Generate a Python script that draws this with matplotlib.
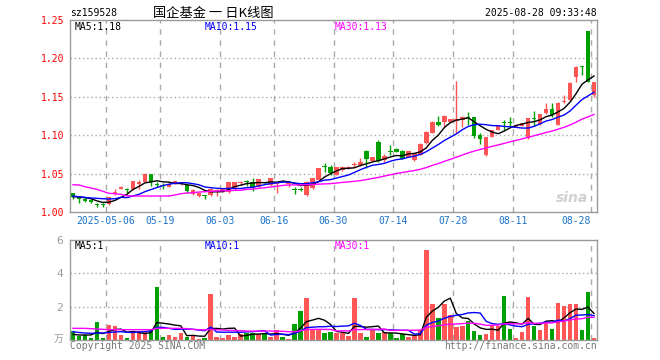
import matplotlib
matplotlib.use('Agg')
import matplotlib.pyplot as plt
import numpy as np
import pandas as pd

# ---------------- data ----------------
opens = [1.0243,1.0199,1.0173,1.0156,1.0095,1.0095,1.0104,1.0251,1.0299,1.0290,
         1.0299,1.0361,1.0395,1.0491,1.0365,1.0348,1.0329,1.0365,1.0365,1.0352,
         1.0231,1.0208,1.0215,1.0221,1.0273,1.0273,1.0264,1.0295,1.0374,1.0395,
         1.0391,1.0329,1.0387,1.0352,1.0361,1.0408,1.0365,1.0290,1.0299,1.0221,
         1.0308,1.0417,1.0590,1.0580,1.0482,1.0547,1.0577,1.0608,1.0612,1.0798,
         1.0668,1.0915,1.0677,1.0790,1.0820,1.0794,1.0720,1.0677,1.0742,1.0894,
         1.1033,1.1176,1.1168,1.1168,1.1185,1.1198,1.1233,1.1233,1.1003,1.0742,
         1.0980,1.1068,1.1172,1.1168,1.1111,1.1120,1.0960,1.1224,1.1142,1.1293,
         1.1341,1.1133,1.1432,1.1458,1.1762,1.1892,1.2357,1.1523]
highs = [1.0251,1.0208,1.0182,1.0165,1.0121,1.0113,1.0199,1.0295,1.0338,1.0316,
         1.0408,1.0417,1.0504,1.0495,1.0391,1.0378,1.0374,1.0408,1.0395,1.0381,
         1.0299,1.0264,1.0221,1.0316,1.0295,1.0303,1.0395,1.0395,1.0404,1.0417,
         1.0439,1.0430,1.0391,1.0443,1.0395,1.0417,1.0395,1.0329,1.0325,1.0404,
         1.0447,1.0573,1.0634,1.0616,1.0586,1.0599,1.0599,1.0647,1.0707,1.0803,
         1.0716,1.0937,1.0755,1.0872,1.0829,1.0801,1.0798,1.0768,1.0894,1.1050,
         1.1185,1.1250,1.1263,1.1215,1.1710,1.1246,1.1306,1.1237,1.1033,1.0976,
         1.1072,1.1133,1.1198,1.1233,1.1137,1.1159,1.1224,1.1319,1.1280,1.1415,
         1.1415,1.1428,1.1523,1.1697,1.1901,1.1905,1.2357,1.1697]
lows = [1.0173,1.0121,1.0134,1.0113,1.0061,1.0069,1.0091,1.0221,1.0295,1.0243,
        1.0290,1.0299,1.0387,1.0342,1.0325,1.0299,1.0321,1.0361,1.0355,1.0251,
        1.0221,1.0199,1.0165,1.0208,1.0208,1.0260,1.0251,1.0287,1.0352,1.0338,
        1.0273,1.0325,1.0365,1.0338,1.0251,1.0387,1.0329,1.0231,1.0273,1.0212,
        1.0299,1.0413,1.0525,1.0482,1.0478,1.0534,1.0560,1.0590,1.0599,1.0569,
        1.0664,1.0655,1.0655,1.0742,1.0781,1.0684,1.0716,1.0664,1.0738,1.0889,
        1.1029,1.1120,1.1111,1.1163,1.1016,1.1111,1.1133,1.0963,1.0885,1.0729,
        1.0976,1.1063,1.1068,1.1111,1.1107,1.1116,1.0950,1.1120,1.1137,1.1272,
        1.1241,1.1129,1.1415,1.1449,1.1697,1.1784,1.1697,1.1493]
closes = [1.0191,1.0173,1.0147,1.0126,1.0087,1.0087,1.0191,1.0260,1.0329,1.0282,
          1.0404,1.0387,1.0491,1.0395,1.0355,1.0338,1.0365,1.0404,1.0391,1.0278,
          1.0287,1.0243,1.0208,1.0295,1.0282,1.0295,1.0391,1.0391,1.0387,1.0387,
          1.0329,1.0426,1.0378,1.0439,1.0369,1.0395,1.0387,1.0282,1.0290,1.0395,
          1.0439,1.0569,1.0582,1.0504,1.0582,1.0590,1.0586,1.0616,1.0655,1.0690,
          1.0712,1.0668,1.0733,1.0781,1.0785,1.0690,1.0794,1.0764,1.0885,1.1045,
          1.1176,1.1133,1.1254,1.1211,1.1207,1.1241,1.1224,1.0990,1.0951,1.0972,
          1.1068,1.1116,1.1163,1.1159,1.1133,1.1155,1.1220,1.1215,1.1276,1.1341,
          1.1263,1.1423,1.1441,1.1684,1.1892,1.1884,1.1697,1.1697]
volumes = [0.54,0.24,0.30,0.14,1.10,0.14,0.90,0.84,0.30,0.14,
           0.40,0.54,0.54,0.60,3.16,0.20,0.30,0.20,0.40,0.20,
           0.30,0.08,0.14,2.76,0.20,0.10,0.30,0.20,0.36,0.44,
           0.44,0.34,0.36,0.20,0.60,0.20,0.08,0.96,1.76,2.52,
           0.66,0.60,0.40,0.50,0.40,0.44,0.24,2.52,0.44,0.20,
           0.60,0.42,0.50,0.40,0.14,0.36,0.20,0.30,0.60,5.40,
           2.16,1.34,2.16,1.50,0.80,0.84,1.14,0.54,0.30,0.36,
           0.90,0.84,2.64,0.66,0.10,0.50,2.60,0.84,0.60,1.10,
           0.66,2.24,2.04,2.16,2.16,0.60,2.90,0.14]

# moving-average values visible before the window is full
ma5_head = [1.0199,1.0195,1.0186,1.0173]
ma10_head = [1.0208,1.0199,1.0191,1.0182,1.0178,1.0173,1.0169,1.0173,1.0191]
ma30_head = [1.0355,1.0352,1.0329,1.0312,1.0295,1.0269,1.0243,1.0238,1.0230,1.0212,
             1.0208,1.0208,1.0208,1.0208,1.0208,1.0208,1.0208,1.0221,1.0238,1.0247,
             1.0251,1.0260,1.0264,1.0269,1.0273,1.0277,1.0277,1.0282,1.0282]
vma5_head = [0.34,0.30,0.30,0.30]
vma10_head = [0.50,0.45,0.42,0.40,0.42,0.42,0.45,0.48,0.50]
vma30_head = [0.70,0.70,0.70,0.68,0.66,0.64,0.62,0.62,0.62,0.62,
              0.62,0.62,0.62,0.62,0.70,0.70,0.70,0.70,0.70,0.68,
              0.64,0.62,0.60,0.64,0.62,0.60,0.58,0.57,0.56]

tick_index = [6, 15, 25, 34, 44, 54, 64, 74, 87]
tick_labels = ['2025-05-06', '05-19', '06-03', '06-16', '06-30', '07-14', '07-28', '08-11', '08-28']
price_ticks = [1.00, 1.05, 1.10, 1.15, 1.20, 1.25]
vol_ticks = [2, 4, 6]

code = 'sz159528'
title = '国企基金 一 日K线图'
stamp = '2025-08-28 09:33:48'
ma_price_labels = ['MA5:1.18', 'MA10:1.15', 'MA30:1.13']
ma_vol_labels = ['MA5:1', 'MA10:1', 'MA30:1']

# ---------------- drawing ----------------
plt.rcParams['font.family'] = ['DejaVu Sans Mono', 'Noto Sans CJK SC']
W, H = 660, 360
fig = plt.figure(figsize=(W / 100, H / 100), dpi=100)
fig.patch.set_facecolor('white')

def axes_px(l, t, r, b):
    return fig.add_axes([l / W, 1 - b / H, (r - l) / W, (b - t) / H])

RED = '#ff5555'
GREEN = '#00a000'
GRID = '#aaaaaa'
FRAME = '#999999'

o = np.array(opens); c = np.array(closes); hi = np.array(highs); lo = np.array(lows)
v = np.array(volumes)
n = len(c)
x = np.arange(n)
cols = np.where(c >= o, RED, GREEN)

def mov(series, w, head):
    s = pd.Series(series).rolling(w).mean().to_numpy()
    s[:len(head)] = head
    return s

ax = axes_px(70, 20, 597, 212)
axv = axes_px(70, 240, 597, 340)

for a in (ax, axv):
    a.set_xlim(-0.5, n - 0.5)
    for sp in a.spines.values():
        sp.set_color(FRAME)
        sp.set_linewidth(1)
    for t in tick_index:
        a.axvline(t - 0.5, color=GRID, lw=1, ls=(0, (4, 4)), zorder=0)

# price panel
ax.set_ylim(1.00, 1.25)
for yv in price_ticks[1:-1]:
    ax.axhline(yv, color=GRID, lw=1, ls=(0, (1, 2)), zorder=0)
ax.vlines(x, lo, hi, colors=cols, lw=1, zorder=2)
ax.bar(x, np.maximum(np.abs(c - o), 0.0013), bottom=np.minimum(o, c), width=0.75,
       color=cols, linewidth=0, zorder=3)
ax.plot(x, mov(c, 5, ma5_head), color='black', lw=1, zorder=4)
ax.plot(x, mov(c, 10, ma10_head), color='#0000ff', lw=1, zorder=4)
ax.plot(x, mov(c, 30, ma30_head), color='#ff00ff', lw=1, zorder=4)
ax.set_yticks(price_ticks)
ax.set_yticklabels(['%.2f' % p for p in price_ticks], color='#ff0000', fontsize=7)
ax.set_xticks([t - 0.5 for t in tick_index])
ax.set_xticklabels(tick_labels, color='#1a73c8', fontsize=7)
ax.tick_params(length=0, pad=4)
ax.tick_params(axis='x', pad=3)
xl = ax.get_xticklabels()
xl[-1].set_ha('right')

# volume panel
axv.set_ylim(0, 6)
for yv in vol_ticks[:-1]:
    axv.axhline(yv, color=GRID, lw=1, ls=(0, (1, 2)), zorder=0)
axv.bar(x, v, width=0.75, color=cols, linewidth=0, zorder=2)
axv.plot(x, mov(v, 5, vma5_head), color='black', lw=1, zorder=4)
axv.plot(x, mov(v, 10, vma10_head), color='#0000ff', lw=1, zorder=4)
axv.plot(x, mov(v, 30, vma30_head), color='#ff00ff', lw=1, zorder=4)
axv.set_yticks(vol_ticks)
axv.set_yticklabels([str(t) for t in vol_ticks], color='#999999', fontsize=8)
axv.set_xticks([])
axv.tick_params(length=0, pad=5)

def ftxt(px, py, s, **kw):
    fig.text(px / W, 1 - py / H, s, **kw)

ftxt(70, 13, code, fontsize=7, va='center', ha='left', color='black')
ftxt(213, 13, title, fontsize=9.5, va='center', ha='center', color='black',
     family=['Noto Sans CJK SC', 'DejaVu Sans'])
ftxt(597, 13, stamp, fontsize=7, va='center', ha='right', color='black')

ma_cols = ['black', '#0000ff', '#ff00ff']
for s, px, col in zip(ma_price_labels, [75, 205, 335], ma_cols):
    ftxt(px, 27, s, fontsize=7, va='center', ha='left', color=col)
for s, px, col in zip(ma_vol_labels, [75, 205, 335], ma_cols):
    ftxt(px, 246, s, fontsize=7, va='center', ha='left', color=col)

ftxt(63, 339, '万', fontsize=7, va='center', ha='right', color='#999999',
     family=['Noto Sans CJK SC', 'DejaVu Sans'])
ftxt(70, 346, 'Copyright 2025 SINA.COM', fontsize=7, va='center', ha='left', color='#777777')
ftxt(597, 346, 'http://finance.sina.com.cn', fontsize=7, va='center', ha='right', color='#777777')
ftxt(572, 198, 'sina', fontsize=10, va='center', ha='center', color='#d0d0d0',
     style='italic', weight='bold', family='DejaVu Sans')

fig.savefig('out.png', dpi=100, facecolor='white')
